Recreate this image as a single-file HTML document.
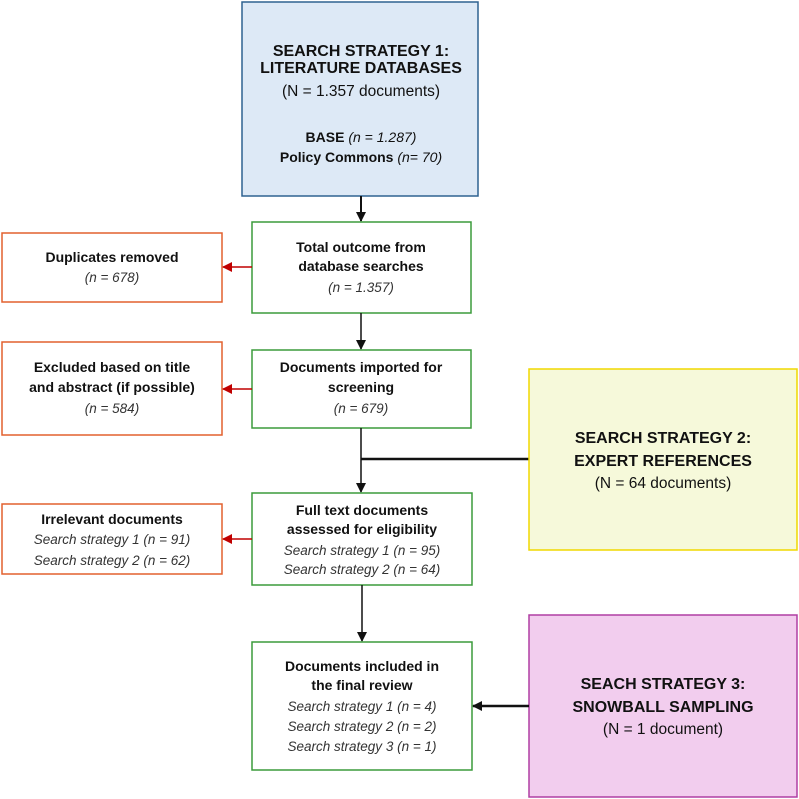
<!DOCTYPE html>
<html><head><meta charset="utf-8"><style>
html,body{margin:0;padding:0;background:#fff;}
svg{display:block;}
text{font-family:"Liberation Sans",sans-serif;fill:#111;}
.b{font-weight:bold;font-size:14px;}
.i{font-style:italic;font-size:13.5px;fill:#333;}
.t{font-weight:bold;font-size:16px;}
.r{font-size:15.5px;}
</style></head><body>
<svg width="799" height="799" viewBox="0 0 799 799" xmlns="http://www.w3.org/2000/svg">
<defs>
<marker id="ak" markerWidth="10" markerHeight="10" refX="9" refY="5" orient="auto" markerUnits="userSpaceOnUse"><path d="M0,0 L10,5 L0,10 z" fill="#111"/></marker>
<marker id="ar" markerWidth="10" markerHeight="10" refX="9" refY="5" orient="auto" markerUnits="userSpaceOnUse"><path d="M0,0 L10,5 L0,10 z" fill="#c00000"/></marker>
</defs>
<!-- Blue box -->
<rect x="242" y="2" width="236" height="194" fill="#dde9f6" stroke="#2e6290" stroke-width="1.5"/>
<text x="361" y="56" text-anchor="middle" class="t">SEARCH STRATEGY 1:</text>
<text x="361" y="73" text-anchor="middle" class="t">LITERATURE DATABASES</text>
<text x="361" y="96" text-anchor="middle" class="r">(N = 1.357 documents)</text>
<text x="361" y="142" text-anchor="middle" class="b">BASE <tspan font-style="italic" font-weight="normal">(n = 1.287)</tspan></text>
<text x="361" y="162" text-anchor="middle" class="b">Policy Commons <tspan font-style="italic" font-weight="normal">(n= 70)</tspan></text>
<line x1="361" y1="196" x2="361" y2="221" stroke="#111" stroke-width="2" marker-end="url(#ak)"/>

<!-- Green 1 -->
<rect x="252" y="222" width="219" height="91" fill="#fff" stroke="#3b9b3b" stroke-width="1.5"/>
<text x="361" y="252" text-anchor="middle" class="b">Total outcome from</text>
<text x="361" y="271" text-anchor="middle" class="b">database searches</text>
<text x="361" y="292" text-anchor="middle" class="i">(n = 1.357)</text>
<rect x="2" y="233" width="220" height="69" fill="#fff" stroke="#e2602e" stroke-width="1.5"/>
<text x="112" y="262" text-anchor="middle" class="b">Duplicates removed</text>
<text x="112" y="282" text-anchor="middle" class="i">(n = 678)</text>
<line x1="252" y1="267" x2="223" y2="267" stroke="#c00000" stroke-width="1.5" marker-end="url(#ar)"/>
<line x1="361" y1="313" x2="361" y2="349" stroke="#111" stroke-width="1.5" marker-end="url(#ak)"/>

<!-- Green 2 -->
<rect x="252" y="350" width="219" height="78" fill="#fff" stroke="#3b9b3b" stroke-width="1.5"/>
<text x="361" y="372" text-anchor="middle" class="b">Documents imported for</text>
<text x="361" y="392" text-anchor="middle" class="b">screening</text>
<text x="361" y="413" text-anchor="middle" class="i">(n = 679)</text>
<rect x="2" y="342" width="220" height="93" fill="#fff" stroke="#e2602e" stroke-width="1.5"/>
<text x="112" y="372" text-anchor="middle" class="b">Excluded based on title</text>
<text x="112" y="392" text-anchor="middle" class="b">and abstract (if possible)</text>
<text x="112" y="413" text-anchor="middle" class="i">(n = 584)</text>
<line x1="252" y1="389" x2="223" y2="389" stroke="#c00000" stroke-width="1.5" marker-end="url(#ar)"/>
<line x1="361" y1="428" x2="361" y2="492" stroke="#111" stroke-width="1.5" marker-end="url(#ak)"/>
<line x1="361" y1="459" x2="529" y2="459" stroke="#111" stroke-width="2.5"/>

<!-- Yellow -->
<rect x="529" y="369" width="268" height="181" fill="#f6f9da" stroke="#f0d800" stroke-width="1.5"/>
<text x="663" y="443" text-anchor="middle" class="t">SEARCH STRATEGY 2:</text>
<text x="663" y="466" text-anchor="middle" class="t">EXPERT REFERENCES</text>
<text x="663" y="488" text-anchor="middle" class="r">(N = 64 documents)</text>

<!-- Green 3 -->
<rect x="252" y="493" width="220" height="92" fill="#fff" stroke="#3b9b3b" stroke-width="1.5"/>
<text x="362" y="515" text-anchor="middle" class="b">Full text documents</text>
<text x="362" y="534" text-anchor="middle" class="b">assessed for eligibility</text>
<text x="362" y="555" text-anchor="middle" class="i">Search strategy 1 (n = 95)</text>
<text x="362" y="574" text-anchor="middle" class="i">Search strategy 2 (n = 64)</text>
<rect x="2" y="504" width="220" height="70" fill="#fff" stroke="#e2602e" stroke-width="1.5"/>
<text x="112" y="524" text-anchor="middle" class="b">Irrelevant documents</text>
<text x="112" y="544" text-anchor="middle" class="i">Search strategy 1 (n = 91)</text>
<text x="112" y="565" text-anchor="middle" class="i">Search strategy 2 (n = 62)</text>
<line x1="252" y1="539" x2="223" y2="539" stroke="#c00000" stroke-width="1.5" marker-end="url(#ar)"/>
<line x1="362" y1="585" x2="362" y2="641" stroke="#111" stroke-width="1.5" marker-end="url(#ak)"/>

<!-- Green 4 -->
<rect x="252" y="642" width="220" height="128" fill="#fff" stroke="#3b9b3b" stroke-width="1.5"/>
<text x="362" y="671" text-anchor="middle" class="b">Documents included in</text>
<text x="362" y="690" text-anchor="middle" class="b">the final review</text>
<text x="362" y="711" text-anchor="middle" class="i">Search strategy 1 (n = 4)</text>
<text x="362" y="731" text-anchor="middle" class="i">Search strategy 2 (n = 2)</text>
<text x="362" y="751" text-anchor="middle" class="i">Search strategy 3 (n = 1)</text>

<!-- Purple -->
<rect x="529" y="615" width="268" height="182" fill="#f2cdee" stroke="#b03ea3" stroke-width="1.5"/>
<text x="663" y="689" text-anchor="middle" class="t">SEACH STRATEGY 3:</text>
<text x="663" y="712" text-anchor="middle" class="t">SNOWBALL SAMPLING</text>
<text x="663" y="734" text-anchor="middle" class="r">(N = 1 document)</text>
<line x1="529" y1="706" x2="473" y2="706" stroke="#111" stroke-width="2.5" marker-end="url(#ak)"/>
</svg>
</body></html>
